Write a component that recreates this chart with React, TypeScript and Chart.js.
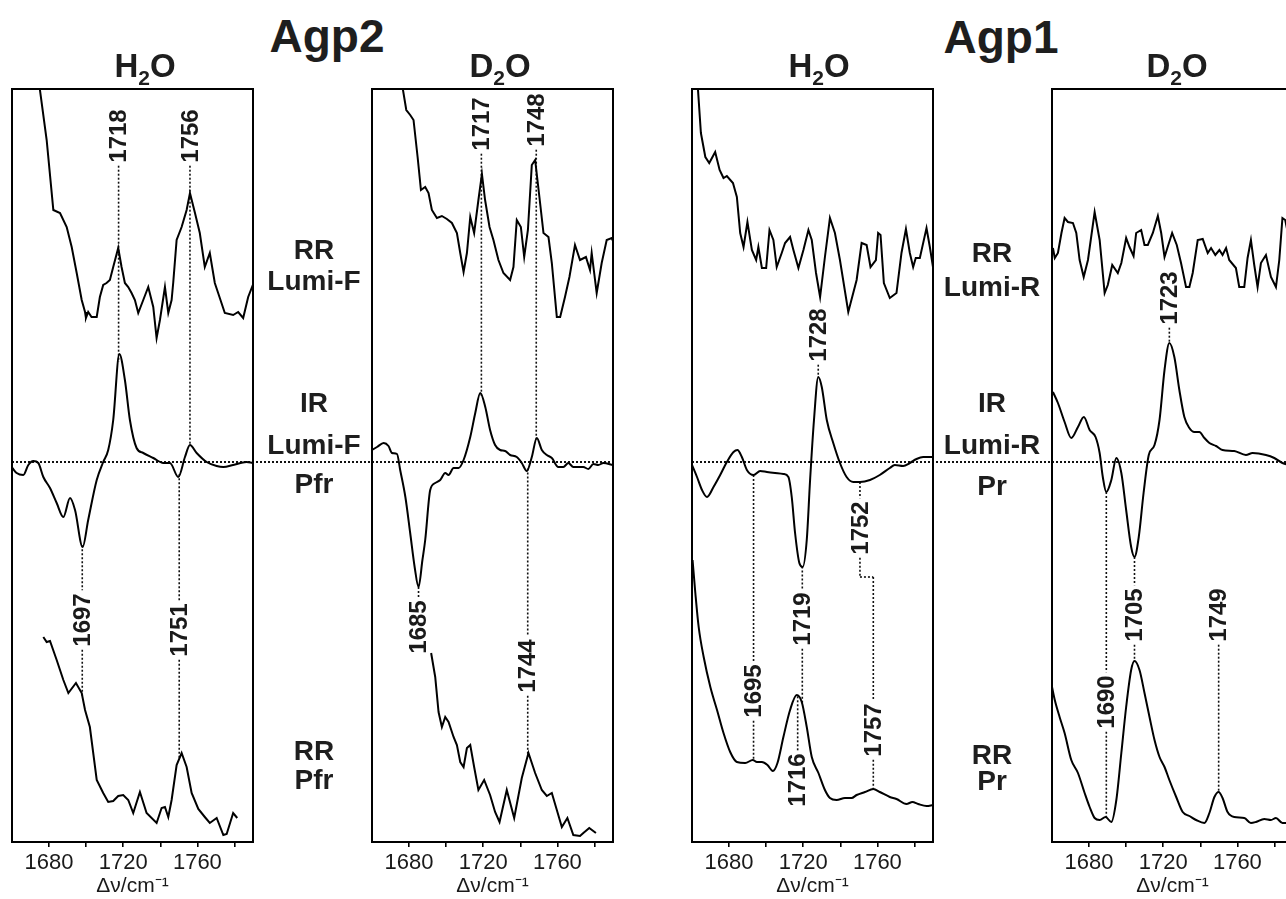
import React, { useEffect, useRef } from 'react';
import { Chart, registerables } from 'chart.js';
Chart.register(...registerables);

type Pt = [number, number];

const FONT = '"Liberation Sans", Arial, Helvetica, sans-serif';
const X_MIN = 1660;
const X_MAX = 1790;
const Y_MIN = -380;
const Y_MAX = 373;
const TICK_VALUES = [1680, 1700, 1720, 1740, 1760, 1780];
const TICK_LABELS = [1680, 1720, 1760];
const AXIS_TITLE = 'Δν/cm⁻¹';

// ---------- Agp2, H2O ----------
const agp2H2oRRLumiF: Pt[] = [[1674.5,380],[1678.7,322],[1682.3,252],[1685.9,249],[1689.5,235],[1692.2,215],[1694.9,189],[1697.6,162],[1699.4,150],[1699.9,144],[1701.1,150],[1702.9,145],[1705.7,145],[1707.4,165],[1709.2,177],[1711.0,179],[1712.8,182],[1714.6,195],[1717.3,214],[1719.1,195],[1720.9,179],[1722.7,175],[1724.5,169],[1726.3,162],[1728.1,149],[1730.8,162],[1733.5,175],[1736.2,155],[1738.0,124],[1739.8,142],[1742.5,175],[1744.3,149],[1746.1,162],[1747.0,180],[1748.8,222],[1751.5,235],[1754.2,252],[1756.0,269],[1758.7,249],[1761.3,229],[1764.0,195],[1766.7,209],[1769.4,179],[1771.2,169],[1774.8,149],[1779.3,147],[1782.0,150],[1784.7,144],[1787.4,165],[1789.9,177]];
const agp2H2oIR: Pt[] = [[1660.2,-6],[1662.5,-11],[1666.1,-13],[1668.8,-3],[1671.5,1],[1674.2,-1],[1676.9,-15],[1680.5,-26],[1684.1,-41],[1687.7,-55],[1691.3,-36],[1694.0,-48],[1698.1,-85],[1701.1,-58],[1705.7,-18],[1709.2,0],[1711.9,12],[1714.6,42],[1717.9,108],[1720.9,82],[1723.6,42],[1727.2,14],[1730.8,9],[1736.2,4],[1741.6,-1],[1745.2,-1],[1749.7,-15],[1753.3,5],[1756.0,17],[1759.6,9],[1765.0,0],[1770.4,-4],[1774.0,-5],[1779.3,-3],[1786.5,0],[1789.8,-1]];
const agp2H2oRRPfr: Pt[] = [[1676.9,-175],[1678.7,-180],[1680.5,-179],[1684.1,-198],[1687.7,-218],[1690.4,-231],[1694.5,-221],[1697.6,-231],[1699.4,-248],[1702.0,-265],[1705.7,-318],[1709.2,-331],[1711.9,-340],[1714.6,-339],[1717.3,-334],[1720.0,-333],[1722.7,-338],[1725.4,-351],[1729.0,-330],[1732.6,-351],[1738.0,-361],[1740.7,-346],[1742.5,-345],[1744.3,-355],[1746.1,-338],[1748.8,-303],[1751.5,-291],[1754.2,-305],[1756.9,-331],[1760.5,-347],[1764.0,-355],[1766.7,-361],[1770.4,-356],[1774.0,-373],[1775.8,-372],[1779.3,-351],[1781.5,-356]];

// ---------- Agp2, D2O ----------
const agp2D2oRRLumiF: Pt[] = [[1676.0,380],[1678.5,352],[1680.6,347],[1682.4,342],[1684.6,305],[1686.4,272],[1688.7,275],[1690.5,269],[1692.3,252],[1695.0,244],[1697.7,246],[1700.4,243],[1703.1,239],[1705.8,229],[1707.6,209],[1709.4,190],[1711.2,209],[1713.0,245],[1715.1,229],[1717.4,262],[1719.3,288],[1721.0,262],[1723.4,235],[1725.5,222],[1728.2,202],[1730.9,189],[1734.5,182],[1736.3,195],[1738.1,242],[1740.3,235],[1742.1,205],[1744.1,232],[1746.2,297],[1748.0,302],[1750.3,265],[1752.5,229],[1755.2,225],[1757.0,199],[1759.7,145],[1761.5,145],[1764.1,165],[1766.5,185],[1769.5,217],[1772.2,202],[1775.4,205],[1777.6,192],[1778.5,209],[1781.2,169],[1783.9,199],[1786.6,222],[1789.3,224],[1790.5,219]];
const agp2D2oIR: Pt[] = [[1660.0,12],[1662.7,15],[1666.3,19],[1668.9,16],[1670.8,9],[1673.5,8],[1675.2,-8],[1678.0,-35],[1680.6,-71],[1683.0,-105],[1685.1,-125],[1687.2,-98],[1688.7,-78],[1691.4,-28],[1694.1,-21],[1696.8,-18],[1699.5,-11],[1701.3,-13],[1704.0,-6],[1706.7,-6],[1709.4,2],[1713.0,25],[1715.7,49],[1718.4,69],[1721.1,55],[1723.7,32],[1726.4,17],[1729.1,12],[1731.8,11],[1734.5,7],[1738.1,5],[1740.8,-1],[1743.5,-9],[1746.2,5],[1748.9,24],[1751.6,12],[1754.3,7],[1757.0,4],[1760.5,-5],[1763.2,-5],[1765.9,-1],[1768.6,-5],[1774.0,-5],[1776.7,-7],[1779.4,-2],[1782.1,-3],[1784.8,-1],[1790.0,-3]];
const agp2D2oRRPfr: Pt[] = [[1691.9,-191],[1694.1,-215],[1695.9,-250],[1697.7,-265],[1699.5,-255],[1701.3,-260],[1704.0,-275],[1705.8,-283],[1707.6,-300],[1709.4,-305],[1711.2,-286],[1713.0,-283],[1715.1,-305],[1717.4,-328],[1720.5,-318],[1723.7,-333],[1726.4,-350],[1728.8,-360],[1732.7,-328],[1736.7,-356],[1740.8,-316],[1744.4,-291],[1748.0,-311],[1751.6,-328],[1754.3,-334],[1757.0,-331],[1759.7,-348],[1762.4,-365],[1765.4,-356],[1768.6,-373],[1772.2,-374],[1774.0,-371],[1777.2,-366],[1780.8,-371]];

// ---------- Agp1, H2O ----------
const agp1H2oRRLumiR: Pt[] = [[1663.2,373],[1664.8,329],[1667.2,305],[1669.3,299],[1672.5,310],[1674.9,292],[1677.0,284],[1678.8,286],[1682.1,279],[1684.2,265],[1686.0,229],[1687.8,215],[1689.9,240],[1692.3,212],[1694.6,202],[1695.8,215],[1697.7,194],[1700.0,194],[1701.8,232],[1703.9,222],[1705.7,195],[1708.4,209],[1710.2,219],[1712.9,225],[1714.7,212],[1717.4,194],[1720.1,212],[1722.8,232],[1724.6,222],[1726.9,189],[1729.1,165],[1731.7,205],[1734.4,244],[1737.1,229],[1739.8,202],[1744.3,150],[1748.8,182],[1751.5,219],[1754.2,217],[1756.3,195],[1759.2,202],[1760.4,229],[1761.7,227],[1763.5,179],[1766.7,164],[1770.3,169],[1773.0,209],[1775.4,233],[1777.5,209],[1779.3,195],[1780.7,204],[1782.9,204],[1786.5,234],[1788.3,215],[1790.0,195]];
const agp1H2oIR: Pt[] = [[1660.0,-3],[1662.7,-15],[1665.4,-28],[1668.1,-35],[1671.6,-25],[1675.2,-13],[1678.8,0],[1682.4,10],[1684.5,12],[1686.9,5],[1689.6,-8],[1693.2,-13],[1696.8,-9],[1700.4,-10],[1704.8,-11],[1709.3,-12],[1712.0,-15],[1713.8,-35],[1715.6,-71],[1717.9,-101],[1719.7,-105],[1721.9,-78],[1723.7,-18],[1725.8,42],[1728.1,85],[1730.0,75],[1732.7,42],[1736.2,19],[1739.8,-1],[1743.4,-15],[1747.0,-20],[1750.6,-20],[1756.0,-18],[1761.3,-13],[1766.7,-6],[1769.4,-3],[1773.9,-4],[1777.5,-1],[1781.1,3],[1784.7,5],[1790.0,5]];
const agp1H2oRRPr: Pt[] = [[1660.3,-98],[1661.8,-131],[1663.6,-165],[1666.3,-195],[1669.9,-225],[1673.5,-248],[1677.0,-271],[1680.6,-290],[1684.2,-300],[1688.7,-301],[1692.8,-298],[1695.0,-300],[1697.7,-300],[1700.7,-303],[1703.6,-309],[1706.1,-301],[1709.3,-275],[1712.9,-248],[1716.5,-233],[1719.2,-240],[1721.9,-265],[1724.6,-295],[1728.2,-311],[1731.7,-328],[1734.4,-336],[1738.0,-338],[1742.5,-336],[1746.1,-336],[1748.8,-333],[1753.3,-330],[1757.8,-327],[1761.3,-330],[1766.7,-335],[1770.3,-337],[1775.7,-342],[1778.9,-340],[1782.0,-342],[1786.5,-344],[1790.0,-343]];

// ---------- Agp1, D2O ----------
const agp1D2oRRLumiR: Pt[] = [[1660.5,214],[1661.5,204],[1663.2,209],[1665.1,229],[1666.8,244],[1668.6,240],[1671.3,239],[1673.1,229],[1674.9,202],[1677.1,185],[1679.4,202],[1683.0,250],[1685.7,222],[1688.4,169],[1690.1,177],[1692.5,197],[1695.5,189],[1697.4,199],[1700.0,224],[1701.8,215],[1704.0,206],[1705.4,229],[1708.1,232],[1709.9,217],[1711.7,217],[1714.4,229],[1717.1,246],[1718.9,229],[1720.7,205],[1722.4,215],[1724.8,229],[1727.3,217],[1729.6,199],[1732.3,175],[1734.1,175],[1735.9,189],[1738.6,222],[1741.3,223],[1744.0,209],[1745.8,214],[1748.1,207],[1750.3,212],[1752.0,207],[1753.9,214],[1755.6,202],[1759.2,194],[1761.0,175],[1763.7,175],[1765.5,204],[1767.3,222],[1769.1,197],[1770.9,175],[1772.7,199],[1775.4,207],[1778.1,185],[1780.8,175],[1782.6,202],[1784.3,244],[1785.8,242],[1788.0,222],[1790.0,210]];
const agp1D2oIR: Pt[] = [[1660.5,70],[1663.2,59],[1666.8,40],[1670.4,24],[1674.0,35],[1677.2,45],[1680.3,32],[1683.5,25],[1685.7,9],[1687.4,-15],[1689.3,-30],[1692.0,-18],[1694.7,4],[1697.4,-11],[1700.0,-48],[1702.7,-85],[1704.5,-95],[1706.8,-75],[1709.4,-31],[1712.2,7],[1715.3,17],[1718.0,42],[1720.7,92],[1723.3,119],[1726.0,105],[1728.7,72],[1731.4,45],[1734.1,34],[1736.8,30],[1739.5,30],[1742.2,24],[1744.9,19],[1748.5,16],[1752.0,12],[1758.3,11],[1764.6,7],[1768.2,9],[1775.4,7],[1779.9,4],[1784.3,-1],[1787.9,-3],[1790.0,-4]];
const agp1D2oRRPr: Pt[] = [[1660.0,-225],[1661.5,-238],[1664.1,-255],[1666.8,-271],[1670.4,-298],[1674.0,-311],[1677.6,-331],[1680.3,-345],[1683.0,-356],[1685.7,-358],[1688.9,-355],[1692.0,-360],[1694.7,-338],[1697.4,-291],[1700.0,-245],[1702.7,-208],[1704.5,-199],[1707.2,-208],[1709.9,-231],[1712.6,-255],[1715.3,-278],[1718.0,-295],[1720.7,-305],[1723.3,-318],[1727.0,-335],[1730.5,-350],[1734.1,-354],[1737.7,-358],[1742.2,-361],[1744.9,-351],[1747.6,-335],[1749.9,-330],[1752.0,-336],[1754.7,-350],[1758.3,-355],[1763.7,-356],[1767.3,-361],[1770.0,-360],[1774.5,-357],[1778.1,-358],[1780.8,-356],[1784.3,-361],[1788.0,-361]];

// ---------- peak annotations (wavenumber, label, label centre in intensity units, spectra joined) ----------
type Ann = { x: number; text: string; labelY: number; connect: string[]; reach?: number[] };
type Link = { x1: number; x2: number; y: number };

const agp2H2oPeaks: Ann[] = [
  { x: 1717.5, text: '1718', labelY: 326, connect: ['ir'] },
  { x: 1756.0, text: '1756', labelY: 326, connect: ['ir'] },
  { x: 1697.9, text: '1697', labelY: -158, connect: ['ir', 'bottom'] },
  { x: 1750.2, text: '1751', labelY: -168, connect: ['ir', 'bottom'] },
];
const agp2D2oPeaks: Ann[] = [
  { x: 1719.0, text: '1717', labelY: 338, connect: ['ir'] },
  { x: 1748.6, text: '1748', labelY: 342, connect: ['ir'] },
  { x: 1685.1, text: '1685', labelY: -165, connect: ['ir'] },
  { x: 1744.0, text: '1744', labelY: -204, connect: ['ir', 'bottom'] },
];
const agp1H2oPeaks: Ann[] = [
  { x: 1728.1, text: '1728', labelY: 127, connect: ['ir'] },
  { x: 1693.2, text: '1695', labelY: -229, connect: ['ir', 'bottom'] },
  { x: 1719.5, text: '1719', labelY: -157, connect: ['ir', 'bottom'] },
  { x: 1717.0, text: '1716', labelY: -318, connect: ['bottom'] },
  { x: 1750.6, text: '1752', labelY: -66, connect: ['ir'], reach: [-115] },
  { x: 1757.8, text: '1757', labelY: -268, connect: ['bottom'], reach: [-115] },
];
const agp1H2oLinks: Link[] = [{ x1: 1750.6, x2: 1757.8, y: -115 }];
const agp1D2oPeaks: Ann[] = [
  { x: 1723.3, text: '1723', labelY: 164, connect: ['ir'] },
  { x: 1689.3, text: '1690', labelY: -240, connect: ['ir', 'bottom'] },
  { x: 1704.5, text: '1705', labelY: -153, connect: ['ir', 'bottom'] },
  { x: 1749.9, text: '1749', labelY: -153, connect: ['bottom'] },
];

type PanelCfg = {
  left: number;
  padRight: number;
  extendBaseline: boolean;
  top: Pt[];
  ir: Pt[];
  bottom: Pt[];
  smoothBottom: boolean;
  peaks: Ann[];
  links: Link[];
};

const PAD_L = 12;
const AREA_W = 241;

const panels: PanelCfg[] = [
  { left: 12, padRight: 119, extendBaseline: true, top: agp2H2oRRLumiF, ir: agp2H2oIR, bottom: agp2H2oRRPfr, smoothBottom: false, peaks: agp2H2oPeaks, links: [] },
  { left: 372, padRight: 10, extendBaseline: false, top: agp2D2oRRLumiF, ir: agp2D2oIR, bottom: agp2D2oRRPfr, smoothBottom: false, peaks: agp2D2oPeaks, links: [] },
  { left: 692, padRight: 119, extendBaseline: true, top: agp1H2oRRLumiR, ir: agp1H2oIR, bottom: agp1H2oRRPr, smoothBottom: true, peaks: agp1H2oPeaks, links: agp1H2oLinks },
  { left: 1052, padRight: 10, extendBaseline: false, top: agp1D2oRRLumiR, ir: agp1D2oIR, bottom: agp1D2oRRPr, smoothBottom: true, peaks: agp1D2oPeaks, links: [] },
];

function valAt(series: Pt[], x: number): number | null {
  for (let i = 0; i < series.length - 1; i++) {
    const [x0, y0] = series[i];
    const [x1, y1] = series[i + 1];
    if (x >= x0 && x <= x1) {
      return y0 + ((y1 - y0) * (x - x0)) / (x1 - x0 || 1);
    }
  }
  return null;
}

function PanelChart({ cfg }: { cfg: PanelCfg }) {
  const ref = useRef<HTMLCanvasElement>(null);
  useEffect(() => {
    const seriesMap: Record<string, Pt[]> = { top: cfg.top, ir: cfg.ir, bottom: cfg.bottom };
    const decor = {
      id: 'decor',
      beforeDatasetsDraw(chart: any) {
        const { ctx, chartArea: a } = chart;
        const xs = chart.scales.x;
        const ys = chart.scales.y;
        ctx.save();
        ctx.strokeStyle = '#111';
        ctx.lineWidth = 2;
        ctx.setLineDash([2, 2]);
        const y0 = ys.getPixelForValue(0);
        ctx.beginPath();
        ctx.moveTo(a.left, y0);
        ctx.lineTo(cfg.extendBaseline ? chart.width : a.right, y0);
        ctx.stroke();

        ctx.lineWidth = 1.6;
        ctx.font = `bold 24px ${FONT}`;
        for (const p of cfg.peaks) {
          const px = xs.getPixelForValue(p.x);
          const ly = ys.getPixelForValue(p.labelY);
          const half = ctx.measureText(p.text).width / 2 + 3;
          const pts: number[] = [ly];
          for (const key of p.connect) {
            const v = valAt(seriesMap[key], p.x);
            if (v !== null) pts.push(ys.getPixelForValue(v));
          }
          for (const r of p.reach || []) pts.push(ys.getPixelForValue(r));
          const yTop = Math.min(...pts);
          const yBot = Math.max(...pts);
          ctx.beginPath();
          if (yTop < ly - half) {
            ctx.moveTo(px, yTop);
            ctx.lineTo(px, ly - half);
          }
          if (yBot > ly + half) {
            ctx.moveTo(px, ly + half);
            ctx.lineTo(px, yBot);
          }
          ctx.stroke();
        }
        for (const l of cfg.links) {
          const yy = ys.getPixelForValue(l.y);
          ctx.beginPath();
          ctx.moveTo(xs.getPixelForValue(l.x1), yy);
          ctx.lineTo(xs.getPixelForValue(l.x2), yy);
          ctx.stroke();
        }
        ctx.setLineDash([]);
        ctx.fillStyle = '#1a1a1a';
        ctx.textAlign = 'center';
        ctx.textBaseline = 'middle';
        for (const p of cfg.peaks) {
          const px = xs.getPixelForValue(p.x);
          const ly = ys.getPixelForValue(p.labelY);
          ctx.save();
          ctx.translate(px, ly);
          ctx.rotate(-Math.PI / 2);
          ctx.fillText(p.text, 0, 1);
          ctx.restore();
        }
        ctx.restore();
      },
      afterDatasetsDraw(chart: any) {
        const { ctx, chartArea: a } = chart;
        ctx.save();
        ctx.strokeStyle = '#000';
        ctx.lineWidth = 2;
        ctx.strokeRect(a.left, a.top, a.right - a.left, a.bottom - a.top);
        ctx.restore();
      },
    };

    const mk = (pts: Pt[], smooth: boolean) => ({
      data: pts.map(([x, y]) => ({ x, y })),
      borderColor: '#000',
      borderWidth: 2,
      pointRadius: 0,
      fill: false,
      tension: 0,
      cubicInterpolationMode: smooth ? ('monotone' as const) : ('default' as const),
    });

    const chart = new Chart(ref.current as HTMLCanvasElement, {
      type: 'line',
      data: {
        datasets: [mk(cfg.top, false), mk(cfg.ir, true), mk(cfg.bottom, cfg.smoothBottom)],
      },
      options: {
        animation: false,
        responsive: true,
        maintainAspectRatio: false,
        layout: { padding: { left: PAD_L, right: cfg.padRight, top: 10, bottom: 0 } },
        plugins: { legend: { display: false }, tooltip: { enabled: false } },
        scales: {
          x: {
            type: 'linear',
            min: X_MIN,
            max: X_MAX,
            afterBuildTicks: (s: any) => {
              s.ticks = TICK_VALUES.map((v) => ({ value: v }));
            },
            afterFit: (s: any) => {
              s.height = 57;
            },
            ticks: {
              autoSkip: false,
              maxRotation: 0,
              padding: 3,
              color: '#1a1a1a',
              font: { size: 22, family: FONT },
              callback: (v: any) => (TICK_LABELS.includes(Number(v)) ? String(v) : ''),
            },
            grid: { drawOnChartArea: false, drawTicks: true, tickLength: 5, color: '#000', lineWidth: 1.6 },
            border: { display: false },
            title: { display: true, text: AXIS_TITLE, color: '#1a1a1a', font: { size: 21, family: FONT }, padding: 0 },
          },
          y: { display: false, min: Y_MIN, max: Y_MAX },
        },
      },
      plugins: [decor],
    } as any);
    return () => chart.destroy();
  }, [cfg]);

  return (
    <div
      style={{
        position: 'absolute',
        left: cfg.left - PAD_L,
        top: 79,
        width: PAD_L + AREA_W + cfg.padRight,
        height: 820,
      }}
    >
      <canvas ref={ref} />
    </div>
  );
}

function Txt({ x, y, size, children }: { x: number; y: number; size: number; children: React.ReactNode }) {
  return (
    <div
      style={{
        position: 'absolute',
        left: x,
        top: y,
        transform: 'translate(-50%, -50%)',
        fontSize: size,
        fontWeight: 'bold',
        lineHeight: 1,
        whiteSpace: 'nowrap',
        color: '#1e1e1e',
        fontFamily: FONT,
      }}
    >
      {children}
    </div>
  );
}

const Sub = ({ c }: { c: string }) => (
  <span style={{ fontSize: 21, position: 'relative', top: 8 }}>{c}</span>
);

export default function App() {
  return (
    <div
      style={{
        position: 'fixed',
        left: 0,
        top: 0,
        width: 1286,
        height: 899,
        overflow: 'hidden',
        background: '#fff',
        fontFamily: FONT,
      }}
    >
      {panels.map((p, i) => (
        <PanelChart key={i} cfg={p} />
      ))}
      <Txt x={327} y={36} size={46}>Agp2</Txt>
      <Txt x={1001} y={37} size={46}>Agp1</Txt>
      <Txt x={145} y={65} size={33}>H<Sub c="2" />O</Txt>
      <Txt x={500} y={65} size={33}>D<Sub c="2" />O</Txt>
      <Txt x={819} y={65} size={33}>H<Sub c="2" />O</Txt>
      <Txt x={1177} y={65} size={33}>D<Sub c="2" />O</Txt>

      <Txt x={314} y={250} size={28}>RR</Txt>
      <Txt x={314} y={281} size={28}>Lumi-F</Txt>
      <Txt x={314} y={403} size={28}>IR</Txt>
      <Txt x={314} y={445} size={28}>Lumi-F</Txt>
      <Txt x={314} y={484} size={28}>Pfr</Txt>
      <Txt x={314} y={751} size={28}>RR</Txt>
      <Txt x={314} y={780} size={28}>Pfr</Txt>

      <Txt x={992} y={253} size={28}>RR</Txt>
      <Txt x={992} y={287} size={28}>Lumi-R</Txt>
      <Txt x={992} y={403} size={28}>IR</Txt>
      <Txt x={992} y={445} size={28}>Lumi-R</Txt>
      <Txt x={992} y={486} size={28}>Pr</Txt>
      <Txt x={992} y={755} size={28}>RR</Txt>
      <Txt x={992} y={781} size={28}>Pr</Txt>
    </div>
  );
}
